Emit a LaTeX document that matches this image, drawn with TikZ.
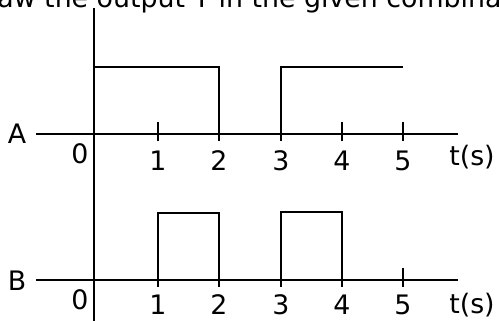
\documentclass[tikz,border=0pt]{standalone}
\usepackage{fontspec}
\setmainfont{DejaVu Sans}
\usetikzlibrary{positioning}

\begin{document}
\begin{tikzpicture}[
    x=0.5pt, y=-0.5pt,
    axis/.style={line width=1.2pt},
    wave/.style={line width=1pt, line join=miter},
    tickmark/.style={line width=1.2pt},
    lbl/.style={font=\fontsize{13.4}{16}\selectfont, inner sep=0pt}
]
    \useasboundingbox (0,0) rectangle (499,321);

    % Heading, cut off by the page edge
    \node[lbl, anchor=base west] (title) at (-3,7) {aw the output Y in the given combina};

    % Axes
    \coordinate (origin) at (94,8);
    \coordinate (bottom) at (94,321);
    \draw[axis] (origin) -- (bottom);
    \draw[axis] (36,134) coordinate (astart) -- (458,134) coordinate (aend);
    \draw[axis] (36,280) coordinate (bstart) -- (458,280) coordinate (bend);

    % Ticks and time labels
    \foreach \t/\x in {1/158,2/219,3/281,4/342,5/403} {
        \draw[tickmark] (\x,122) -- (\x,141);
        \draw[tickmark] (\x,268) -- (\x,287);
        \node[lbl, anchor=base] (ta\t) at (\x,170) {\t};
        \node[lbl, anchor=base] (tb\t) at (\x,314) {\t};
    }
    \node[lbl, anchor=base] (za) at (80,163) {0};
    \node[lbl, anchor=base] (zb) at (80,309) {0};
    \node[lbl, anchor=base] (unita) at (472,165) {t(s)};
    \node[lbl, anchor=base] (unitb) at (472,313) {t(s)};

    % Signal names
    \node[lbl, anchor=base] (siga) at (17,143) {A};
    \node[lbl, anchor=base] (sigb) at (17,290) {B};

    % Waveforms
    \draw[wave] (94,67) -- (219,67) -- (219,134);
    \draw[wave] (281,134) -- (281,67) -- (403,67);
    \draw[wave] (158,280) -- (158,213) -- (219,213) -- (219,280);
    \draw[wave] (281,280) -- (281,212) -- (342,212) -- (342,280);
\end{tikzpicture}
\end{document}
